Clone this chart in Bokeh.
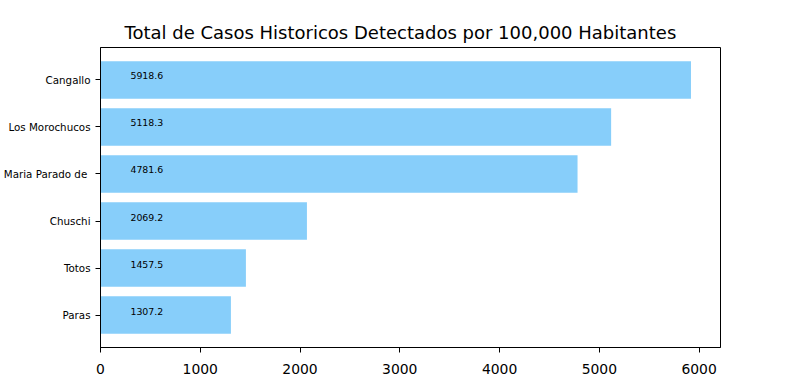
from bokeh.plotting import figure
from bokeh.models import ColumnDataSource, FixedTicker, Range1d
from bokeh.core.properties import value
from bokeh.embed import file_html
from bokeh.resources import INLINE

provinces = ["Paras", "Totos", "Chuschi", "Maria Parado de ", "Los Morochucos", "Cangallo"]
cases = [1307.2, 1457.5, 2069.2, 4781.6, 5118.3, 5918.6]
x_ticks = [0, 1000, 2000, 3000, 4000, 5000, 6000]

pos = list(range(len(provinces)))
src = ColumnDataSource(dict(
    y=pos, v=cases, lab=[f"{c:.1f}" for c in cases], tx=[300] * len(cases)
))

p = figure(width=800, height=390, output_backend="svg", toolbar_location=None,
           title="Total de Casos Historicos Detectados por 100,000 Habitantes",
           x_range=Range1d(0, max(cases) * 1.05),
           y_range=Range1d(-0.4 - 0.05 * 5.8, 5.4 + 0.05 * 5.8),
           min_border_left=100, min_border_right=80, min_border_top=47, min_border_bottom=43)

p.hbar(y="y", right="v", left=0, height=0.8, source=src, color="#87CEFA", line_color=None)
p.text(x="tx", y="y", text="lab", source=src, text_font=value("DejaVu Sans"),
       text_font_size="9.4px", text_baseline="middle", y_offset=-4, text_color="black")

p.title.text_font = "DejaVu Sans"
p.title.text_font_size = "18px"
p.title.text_font_style = "normal"
p.title.text_color = "black"
p.title.align = "left"
p.title.offset = 24

p.xgrid.visible = False
p.ygrid.visible = False
p.outline_line_color = "black"
p.outline_line_width = 1
p.outline_line_alpha = 1

p.xaxis.ticker = FixedTicker(ticks=x_ticks)
p.yaxis.ticker = FixedTicker(ticks=pos)
p.yaxis.major_label_overrides = {i: n for i, n in enumerate(provinces)}
for ax in (p.xaxis[0], p.yaxis[0]):
    ax.major_label_text_font = "DejaVu Sans"
    ax.major_label_text_color = "black"
    ax.axis_line_color = "black"
    ax.major_tick_line_color = "black"
    ax.major_tick_out = 5
    ax.major_tick_in = 0
    ax.minor_tick_line_color = None
p.xaxis.major_label_standoff = 11
p.yaxis.major_label_standoff = 5
p.xaxis.major_label_text_font_size = "13.9px"
p.yaxis.major_label_text_font_size = "10.3px"

open("out.html", "w").write(file_html(p, INLINE))
